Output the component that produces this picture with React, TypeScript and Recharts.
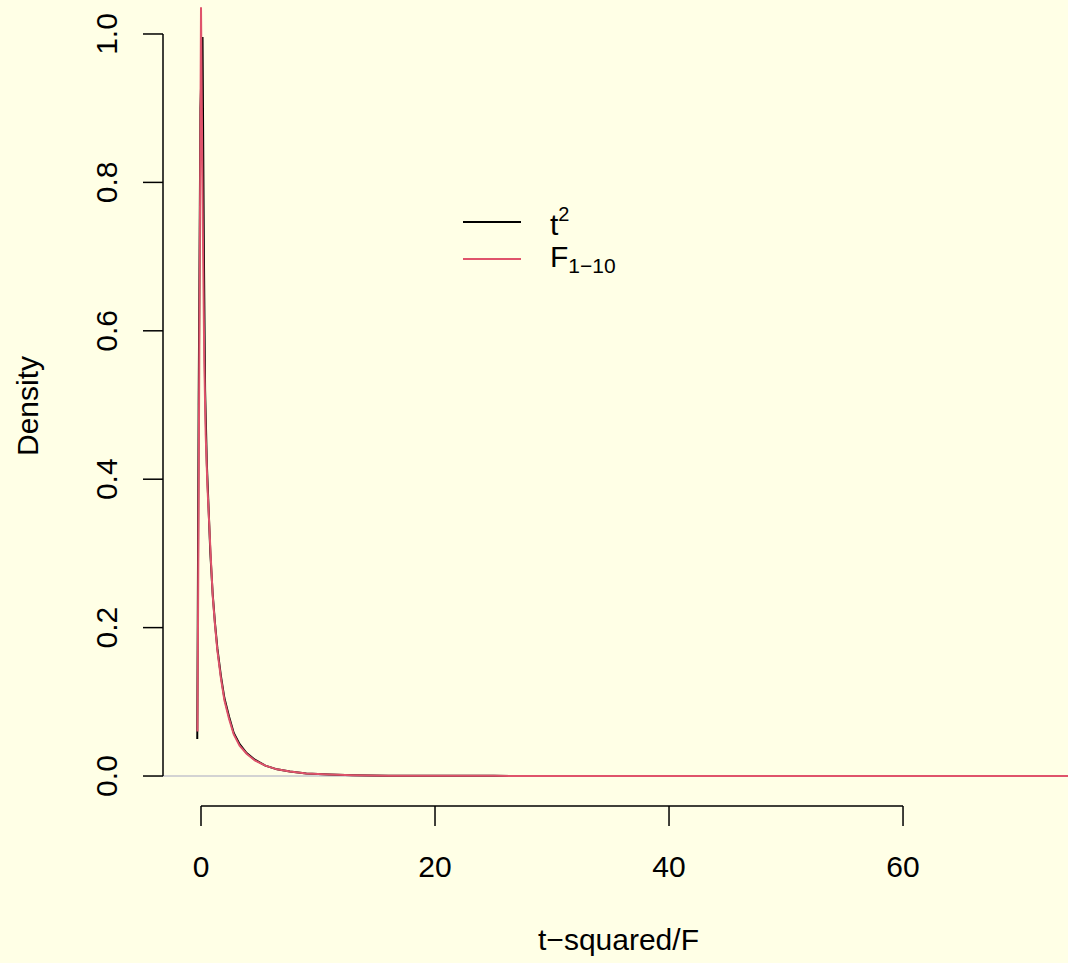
import { LineChart, Line, XAxis, YAxis, ReferenceLine, Legend } from "recharts";

// t^2 density (black) and F(1,10) density (red)
const tSqX = [-0.32, -0.2, -0.05, 0.13, 0.25, 0.35, 0.5, 0.65, 0.8, 1.0, 1.2, 1.4, 1.7, 2.0, 2.4, 2.8, 3.3, 3.9, 4.6, 5.5, 6.5, 7.6, 9, 11, 13, 16, 20, 25, 30, 40, 50, 60, 70, 76];
const tSqY = [0.05, 0.5, 0.9, 0.996, 0.7, 0.52, 0.42, 0.36, 0.3, 0.245, 0.205, 0.172, 0.135, 0.105, 0.08, 0.058, 0.043, 0.031, 0.022, 0.014, 0.009, 0.006, 0.0035, 0.002, 0.001, 0.0005, 0.0003, 0.0002, 0.0001, 0.00005, 0.00002, 0.00002, 0.00002, 0.00002];

const fX = [-0.3, -0.15, 0.0, 0.15, 0.28, 0.4, 0.55, 0.7, 0.85, 1.0, 1.2, 1.4, 1.7, 2.0, 2.4, 2.8, 3.3, 3.9, 4.6, 5.5, 6.5, 7.6, 9, 11, 13, 16, 20, 25, 30, 40, 50, 60, 70, 76];
const fY = [0.06, 0.55, 1.036, 0.75, 0.56, 0.46, 0.39, 0.34, 0.29, 0.243, 0.203, 0.169, 0.132, 0.102, 0.077, 0.056, 0.041, 0.03, 0.021, 0.014, 0.009, 0.006, 0.0035, 0.002, 0.001, 0.0005, 0.0003, 0.0002, 0.0001, 0.00005, 0.00002, 0.00002, 0.00002, 0.00002];

const xTicks = [0, 20, 40, 60];
const yTicks = [0, 0.2, 0.4, 0.6, 0.8, 1.0];

const X_MIN = -3.248;
const X_MAX = 74.1;
const Y_MIN = -0.0404;
const Y_MAX = 1.0458;

const BG = "#FFFFE6";
const RED = "#DF536B";
const FONT = "'Liberation Sans', Arial, sans-serif";

const tSqData = tSqX.map((x, i) => ({ x, y: tSqY[i] }));
const fData = fX.map((x, i) => ({ x, y: fY[i] }));

function XTick({ x, y, payload }: any) {
  return (
    <text x={x} y={y + 51} textAnchor="middle" fontSize={30} fill="#000" fontFamily={FONT}>
      {payload.value}
    </text>
  );
}

function YTick({ x, y, payload }: any) {
  return (
    <text transform={`translate(${x - 26},${y}) rotate(-90)`} textAnchor="middle" fontSize={30} fill="#000" fontFamily={FONT}>
      {Number(payload.value).toFixed(1)}
    </text>
  );
}

function LegendBox() {
  return (
    <svg width={200} height={95} style={{ overflow: "visible" }}>
      <line x1={23} x2={81} y1={32} y2={32} stroke="#000" strokeWidth={2} />
      <line x1={23} x2={81} y1={69} y2={69} stroke={RED} strokeWidth={2} />
      <text x={110} y={45} fontSize={30} fontFamily={FONT} fill="#000">
        t<tspan fontSize={20} dy={-14}>2</tspan>
      </text>
      <text x={110} y={77} fontSize={30} fontFamily={FONT} fill="#000">
        F<tspan fontSize={21} dy={6}>1−10</tspan>
      </text>
    </svg>
  );
}

export default function App() {
  return (
    <div style={{ position: "absolute", left: 0, top: 0, width: 1068, height: 963, background: BG, fontFamily: FONT }}>
      <LineChart width={1068} height={963} margin={{ top: 0, right: 0, left: 0, bottom: 0 }}>
        <XAxis
          dataKey="x"
          type="number"
          domain={[X_MIN, X_MAX]}
          allowDataOverflow
          ticks={xTicks}
          height={157}
          axisLine={false}
          tickLine={{ stroke: "#000", strokeWidth: 1.5 }}
          tickSize={20}
          tickMargin={0}
          tick={<XTick />}
          label={{
            content: ({ viewBox }: any) => (
              <text x={viewBox.x + viewBox.width / 2 + 3} y={viewBox.y + 144} textAnchor="middle" fontSize={30} fontFamily={FONT} fill="#000">
                t−squared/F
              </text>
            ),
          }}
        />
        <YAxis
          dataKey="y"
          type="number"
          domain={[Y_MIN, Y_MAX]}
          allowDataOverflow
          ticks={yTicks}
          width={163}
          axisLine={false}
          tickLine={{ stroke: "#000", strokeWidth: 1.5 }}
          tickSize={20}
          tickMargin={0}
          tick={<YTick />}
          label={{
            content: ({ viewBox }: any) => (
              <text transform={`translate(38,${viewBox.y + viewBox.height / 2 + 3}) rotate(-90)`} textAnchor="middle" fontSize={30} fontFamily={FONT} fill="#000">
                Density
              </text>
            ),
          }}
        />
        <ReferenceLine y={0} stroke="#D3D3D3" strokeWidth={2} />
        <ReferenceLine segment={[{ x: 0, y: Y_MIN }, { x: 60, y: Y_MIN }]} stroke="#000" strokeWidth={1.5} ifOverflow="visible" />
        <ReferenceLine segment={[{ x: X_MIN, y: 0 }, { x: X_MIN, y: 1 }]} stroke="#000" strokeWidth={1.5} ifOverflow="visible" />
        <Line data={tSqData} dataKey="y" stroke="#000" strokeWidth={2} dot={false} type="linear" isAnimationActive={false} />
        <Line data={fData} dataKey="y" stroke={RED} strokeWidth={2} dot={false} type="linear" isAnimationActive={false} />
        <Legend
          layout="vertical"
          align="center"
          verticalAlign="middle"
          content={() => <LegendBox />}
          wrapperStyle={{ position: "absolute", left: 440, top: 190, width: 200, height: 95 }}
        />
      </LineChart>
    </div>
  );
}
